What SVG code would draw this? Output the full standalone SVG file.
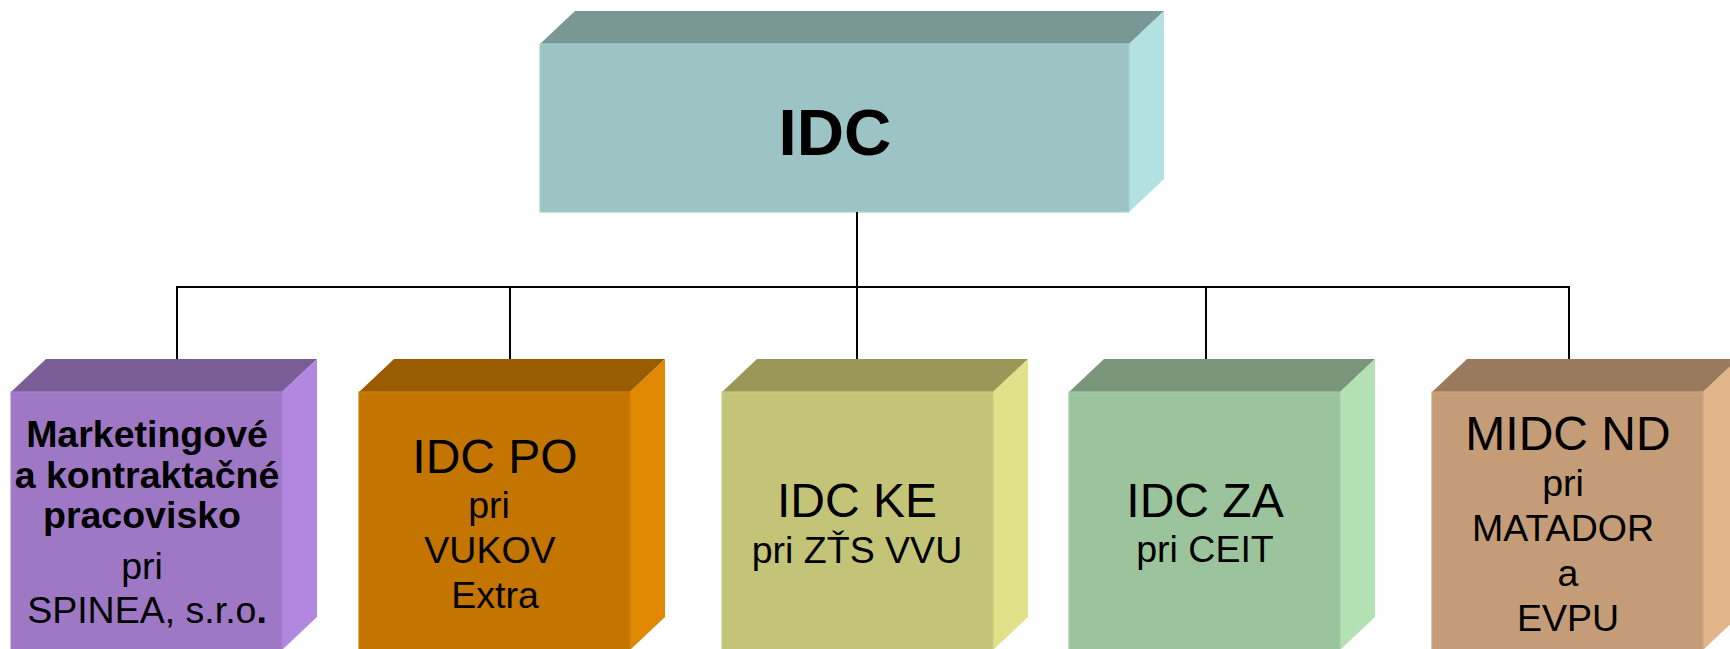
<svg xmlns="http://www.w3.org/2000/svg" width="1730" height="649" viewBox="0 0 1730 649">
<style>
.t{font-family:"Liberation Sans",Arial,sans-serif;fill:#000;text-anchor:middle}
.b{font-weight:bold}
.big{font-size:48px}
.sm{font-size:37.5px}
.conn{fill:none;stroke:#000;stroke-width:2}
.edge{stroke-width:1.2}
</style>
<rect x="0" y="0" width="1730" height="649" fill="#fff"/>
<g id="root">
<polygon points="540,44 575,11 1164,11 1129,44" fill="#799795"/>
<polygon points="1129,44 1164,11 1164,179 1129,212" fill="#B3E0E1"/>
<rect x="540" y="44" width="589" height="168" fill="#9CC4C4" stroke="#A6CFCF" class="edge"/>
<text class="t b" x="835" y="155" style="font-size:65.5px">IDC</text>
</g>
<g id="connectors">
<path class="conn" d="M857,212 V287 H177 V392"/>
<path class="conn" d="M857,287 H510 V392"/>
<path class="conn" d="M857,287 V392"/>
<path class="conn" d="M857,287 H1206 V392"/>
<path class="conn" d="M1206,287 H1569 V392"/>
</g>
<g id="node-spinea">
<polygon points="11,392 46,359 317,359 282,392" fill="#7A5D97"/>
<polygon points="282,392 317,359 317,617 282,650" fill="#B287E0"/>
<rect x="11" y="392" width="271" height="258" fill="#9E78C4" stroke="#A884CF" class="edge"/>
<text class="t b sm" x="147" y="447">Marketingové</text>
<text class="t b sm" x="147" y="488">a kontraktačné</text>
<text class="t b sm" x="142" y="528">pracovisko</text>
<text class="t sm" x="142" y="579">pri</text>
<text class="t sm" x="147" y="623">SPINEA, s.r.o<tspan class="b">.</tspan></text>
</g>
<g id="node-po">
<polygon points="359,392 394,359 665,359 630,392" fill="#9A5C00"/>
<polygon points="630,392 665,359 665,617 630,650" fill="#E08800"/>
<rect x="359" y="392" width="271" height="258" fill="#C47500" stroke="#CF7F08" class="edge"/>
<text class="t big" x="495" y="473">IDC PO</text>
<text class="t sm" x="489" y="518">pri</text>
<text class="t sm" x="490" y="563">VUKOV</text>
<text class="t sm" x="495" y="608">Extra</text>
</g>
<g id="node-ke">
<polygon points="722,392 757,359 1028,359 993,392" fill="#9A9759"/>
<polygon points="993,392 1028,359 1028,617 993,650" fill="#E1E189"/>
<rect x="722" y="392" width="271" height="258" fill="#C4C478" stroke="#CECE84" class="edge"/>
<text class="t big" x="857" y="517">IDC KE</text>
<text class="t sm" x="857" y="563">pri ZŤS VVU</text>
</g>
<g id="node-za">
<polygon points="1069,392 1104,359 1375,359 1340,392" fill="#79967A"/>
<polygon points="1340,392 1375,359 1375,617 1340,650" fill="#B3E1B3"/>
<rect x="1069" y="392" width="271" height="258" fill="#9CC49C" stroke="#A6CEA6" class="edge"/>
<text class="t big" x="1205" y="517">IDC ZA</text>
<text class="t sm" x="1205" y="562">pri CEIT</text>
</g>
<g id="node-nd">
<polygon points="1432,392 1467,359 1738,359 1703,392" fill="#9A7A5C"/>
<polygon points="1703,392 1738,359 1738,617 1703,650" fill="#E1B489"/>
<rect x="1432" y="392" width="271" height="258" fill="#C49C77" stroke="#CEA682" class="edge"/>
<text class="t big" x="1568" y="450">MIDC ND</text>
<text class="t sm" x="1563" y="496">pri</text>
<text class="t sm" x="1563" y="541">MATADOR</text>
<text class="t sm" x="1568" y="586">a</text>
<text class="t sm" x="1568" y="631">EVPU</text>
</g>
</svg>
